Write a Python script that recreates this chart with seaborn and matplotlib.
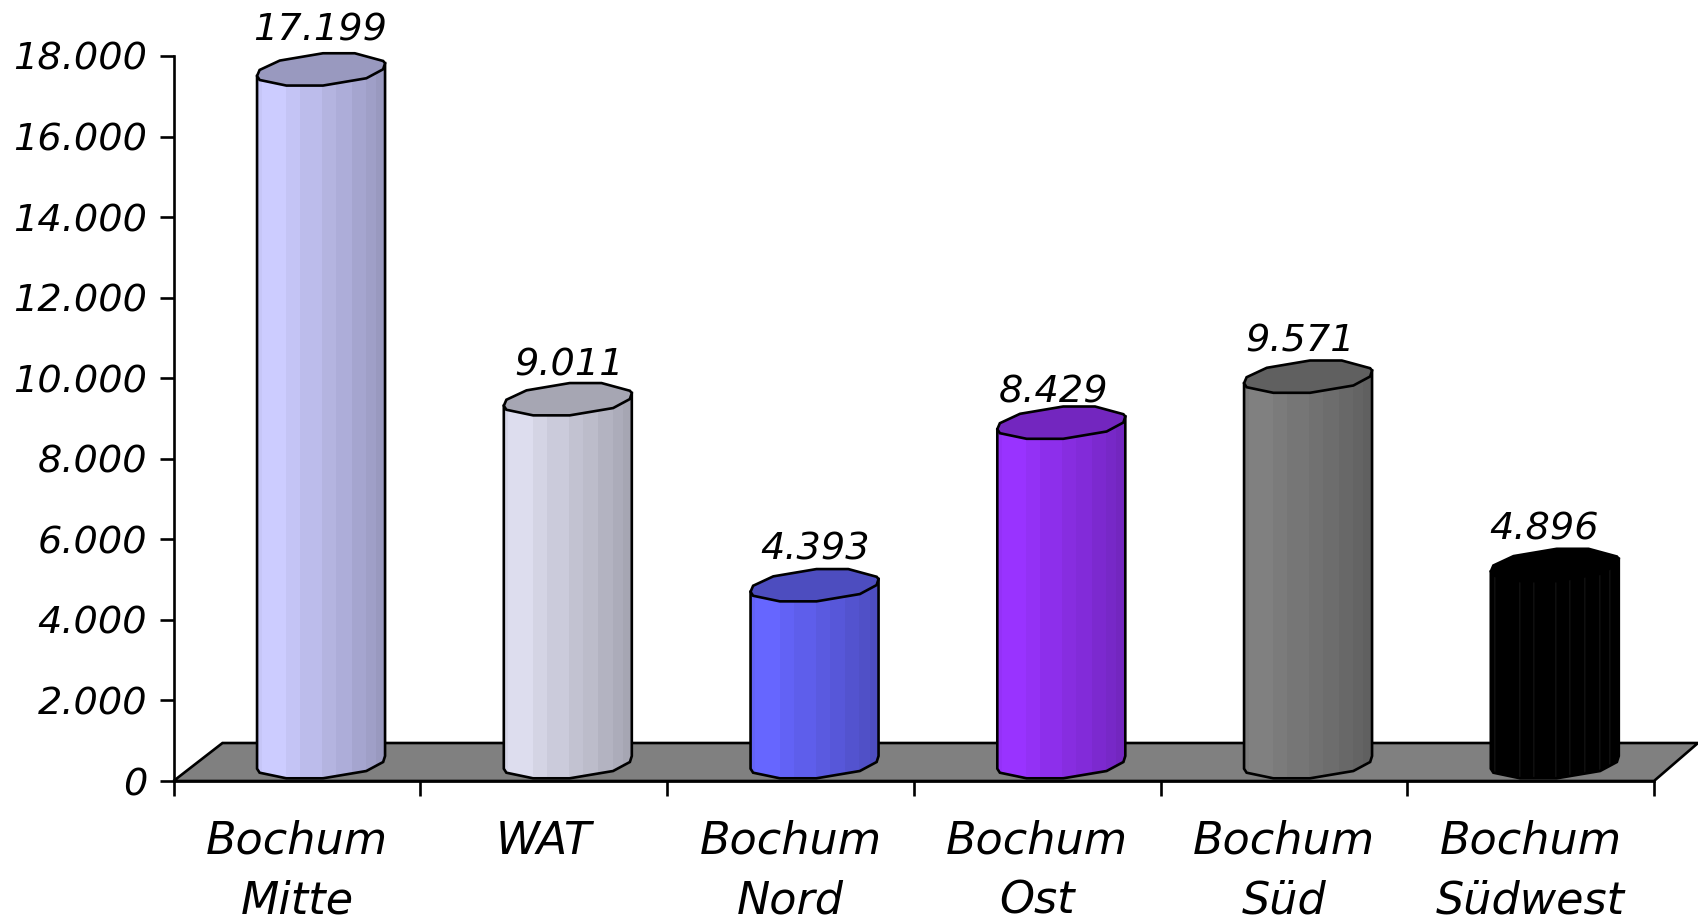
import numpy as np
import pandas as pd
import matplotlib
matplotlib.use('Agg')
import matplotlib.pyplot as plt
from matplotlib.patches import Polygon
import seaborn as sns

# Data
categories = ['Bochum\nMitte', 'WAT', 'Bochum\nNord', 'Bochum\nOst', 'Bochum\nSüd', 'Bochum\nSüdwest']
values = [17199, 9011, 4393, 8429, 9571, 4896]
value_labels = ['17.199', '9.011', '4.393', '8.429', '9.571', '4.896']
base_colors = ['#CCCCFF', '#DDDDEE', '#6666FF', '#9933FF', '#808080', '#000000']
y_ticks = list(range(0, 18001, 2000))
y_tick_labels = ['0', '2.000', '4.000', '6.000', '8.000', '10.000', '12.000', '14.000', '16.000', '18.000']

# Fake 3D geometry, all in data units of the axes
PX_X = 1 / 246.75
PX_Y = 18000 / 725
BAR_OFFSET = 0.598
BAR_W = 128 * PX_X
BASE_Y = 19 * PX_Y
FLOOR_DX = 49 * PX_X
FLOOR_DY = 38 * PX_Y
FLOOR_RIGHT_DX = 44 * PX_X
LINE_W = 1.9

# the value labels do not sit quite evenly over the columns (px)
LABEL_SHIFT_X = [-1, 1, 1, -8, -8, -11]
LABEL_SHIFT_Y = [0, -5, -3, -9, -4, -4]

# band edges across the cylinder (0-1) and how dark each band gets
BAND_EDGES = [0, 0.035, 0.228, 0.337, 0.508, 0.617, 0.738, 0.85, 0.93, 1]
BAND_SHADE = [0.97, 1.0, 0.96, 0.92, 0.88, 0.85, 0.81, 0.78, 0.75]
TOP_SHADE = 0.75

# outline of one end cap, as (dx / half width, dy px) going round from the left
UPPER_CAP = [(-1, 6.7), (-0.96, 0.7), (-0.645, -8.7), (0.03, -16), (0.527, -16), (0.97, -8.3), (1, -6)]
LOWER_CAP = [(1, -6), (0.97, 0), (0.708, 9), (0.03, 16.3), (-0.542, 16.3), (-0.96, 10.7), (-1, 6.7)]


def cap_points(center, level, points):
    return [(center + dx * BAR_W / 2, level - dy * PX_Y) for dx, dy in points]


def shade(color, factor):
    r, g, b = matplotlib.colors.to_rgb(color)
    return (r * factor, g * factor, b * factor)


sns.set_theme(style='white')
plt.rcParams['font.family'] = ['DejaVu Sans']

fig = plt.figure(figsize=(16.98, 9.24), dpi=100)
ax = fig.add_axes([173.5 / 1698, (924 - 781) / 924, 1480.5 / 1698, 725 / 924])

# Floor
floor = Polygon([(0, 0), (FLOOR_DX, FLOOR_DY), (6 + FLOOR_RIGHT_DX, FLOOR_DY), (6, 0)],
                closed=True, facecolor='#808080', edgecolor='black', linewidth=LINE_W,
                clip_on=False, zorder=0.5)
ax.add_patch(floor)

# Bars: each cylinder is a set of vertical bands
centers = [i + BAR_OFFSET for i in range(len(categories))]
bottom_pad = 20 * PX_Y
for k, tone in enumerate(BAND_SHADE):
    left, right = BAND_EDGES[k], BAND_EDGES[k + 1]
    df = pd.DataFrame({
        'pos': [c + ((left + right) / 2 - 0.5) * BAR_W for c in centers],
        'value': [v + bottom_pad + 20 * PX_Y for v in values],
        'category': categories,
    })
    palette = {c: shade(col, tone) for c, col in zip(categories, base_colors)}
    before = len(ax.patches)
    sns.barplot(data=df, x='pos', y='value', hue='category', palette=palette, dodge=False,
                native_scale=True, width=(right - left) * BAR_W, errorbar=None, legend=False,
                saturation=1, linewidth=0, bottom=BASE_Y - bottom_pad, ax=ax)
    # cut the rectangles to the cylinder shape
    for patch in ax.patches[before:]:
        i = int(patch.get_x() // 1)
        top = BASE_Y + values[i]
        body = cap_points(centers[i], top, [UPPER_CAP[0]]) + cap_points(centers[i], top, [UPPER_CAP[-1]]) \
            + cap_points(centers[i], BASE_Y, LOWER_CAP)
        patch.set_clip_path(Polygon(body, closed=True, transform=ax.transData))
        patch.set_zorder(1)
        # the black column shows thin grey seams between bands
        if base_colors[i] == '#000000':
            patch.set_edgecolor('#2a2a2a')
            patch.set_linewidth(0.3)

for i, (c, v) in enumerate(zip(centers, values)):
    top = BASE_Y + v
    body = cap_points(c, top, [UPPER_CAP[0]]) + cap_points(c, top, [UPPER_CAP[-1]]) + cap_points(c, BASE_Y, LOWER_CAP)
    ax.add_patch(Polygon(body, closed=True, facecolor='none', edgecolor='black', linewidth=LINE_W, zorder=2))
    cap = cap_points(c, top, UPPER_CAP) + cap_points(c, top, LOWER_CAP)
    ax.add_patch(Polygon(cap, closed=True, facecolor=shade(base_colors[i], TOP_SHADE), edgecolor='black',
                         linewidth=LINE_W, zorder=3, clip_on=False))
    ax.text(c + LABEL_SHIFT_X[i] * PX_X, top + (29 + LABEL_SHIFT_Y[i]) * PX_Y, value_labels[i], ha='center',
            va='baseline', fontsize=27.5, style='italic', color='black', clip_on=False)

# Axes
ax.set_xlim(0, 6)
ax.set_ylim(0, 18000)
ax.set_xlabel('')
ax.set_ylabel('')
ax.set_yticks(y_ticks, y_tick_labels)
ax.set_xticks(range(7), [''] * 7)
ax.set_xticks([i + 0.5 for i in range(6)], categories, minor=True)
ax.tick_params(axis='y', which='major', left=True, length=10, width=LINE_W, color='black', labelsize=27.5,
               labelcolor='black', pad=9)
ax.tick_params(axis='x', which='major', bottom=True, length=11, width=LINE_W, color='black')
ax.tick_params(axis='x', which='minor', bottom=False, length=0, labelsize=32, labelcolor='black', pad=28)
for label in ax.get_yticklabels() + ax.get_xticklabels(minor=True):
    label.set_style('italic')
for label in ax.get_xticklabels(minor=True):
    label.set_linespacing(1.5)
sns.despine(ax=ax)
for side in ['left', 'bottom']:
    ax.spines[side].set_linewidth(LINE_W)
    ax.spines[side].set_color('black')
    ax.spines[side].set_zorder(4)

fig.savefig('out.png', dpi=100)
